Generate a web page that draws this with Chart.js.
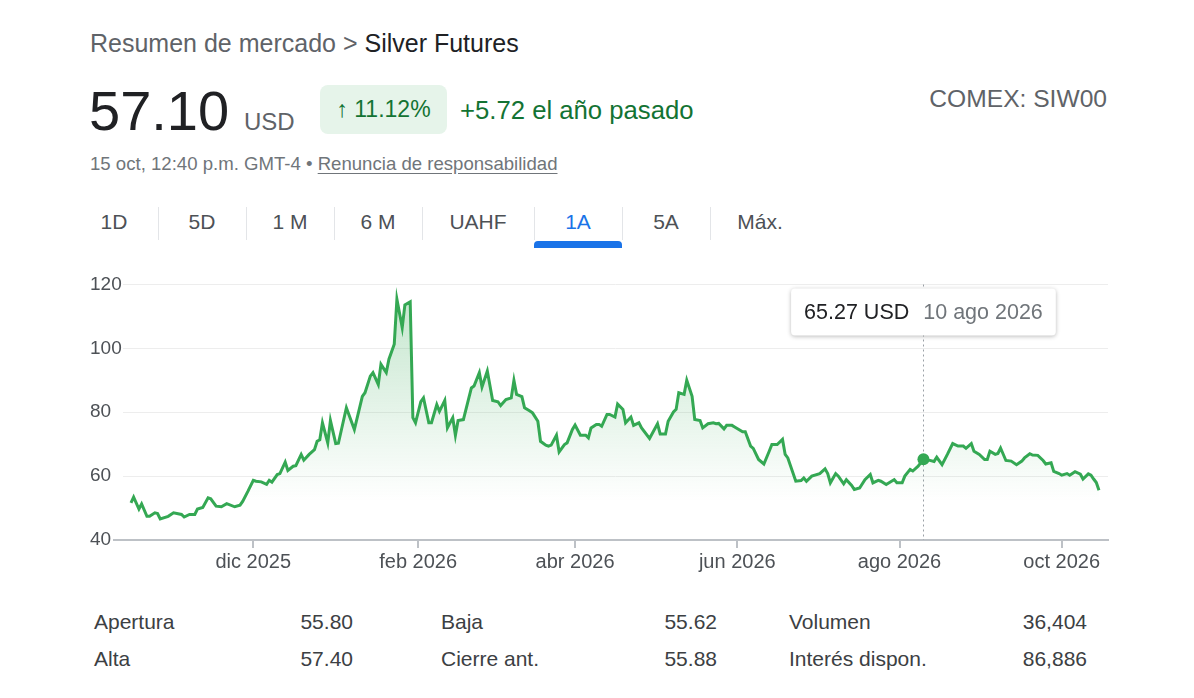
<!DOCTYPE html>
<html lang="es">
<head>
<meta charset="utf-8">
<title>Silver Futures</title>
<script src="https://cdn.jsdelivr.net/npm/chart.js@4.4.1/dist/chart.umd.min.js"></script>
<style>
  body {
    margin: 0;
    width: 1194px;
    height: 698px;
    position: relative;
    overflow: hidden;
    background: #fff;
    font-family: Arial, "Liberation Sans", sans-serif;
    color: #202124;
  }
  .abs { position: absolute; white-space: nowrap; }
  .crumb { left: 90px; top: 28px; font-size: 25px; line-height: 30px; color: #5f6368; }
  .crumb span { color: #202124; }
  .price { left: 89px; top: 81px; font-size: 56px; line-height: 60px; color: #202124; }
  .unit { left: 244px; top: 107px; font-size: 24px; line-height: 30px; color: #5f6368; }
  .badge {
    left: 320px; top: 85px; width: 127px; height: 49px;
    background: #e6f4ea; border-radius: 8px;
    display: flex; align-items: center; justify-content: center;
    font-size: 23px; color: #137333;
  }
  .gain { left: 460px; top: 95px; font-size: 25.7px; line-height: 30px; color: #137333; }
  .comex { right: 87px; top: 84px; font-size: 24.6px; line-height: 30px; color: #5f6368; }
  .stamp { left: 90px; top: 153px; font-size: 18.6px; line-height: 22px; color: #70757a; }
  .stamp u { text-underline-offset: 3px; }
  .tabs { left: 70px; top: 200px; height: 44px; display: flex; }
  .tab {
    position: relative; height: 44px;
    display: flex; align-items: center; justify-content: center;
    font-size: 21px; color: #4d5156;
  }
  .tab + .tab::before {
    content: ""; position: absolute; left: 0; top: 7px; width: 1px; height: 33px; background: #e3e5e8;
  }
  .tab.on { color: #1a73e8; }
  .tab.on::after {
    content: ""; position: absolute; left: 0; right: 0; bottom: -4px; height: 7px;
    background: #1a73e8; border-radius: 4px 4px 0 0;
  }
  #chartBox { left: 0; top: 260px; width: 1194px; height: 320px; }
  .stat { display: flex; justify-content: space-between; font-size: 21px; line-height: 26px; color: #3c4043; }
</style>
</head>
<body>
<div class="abs crumb">Resumen de mercado &gt; <span>Silver Futures</span></div>
<div class="abs price">57.10</div>
<div class="abs unit">USD</div>
<div class="abs badge">↑ 11.12%</div>
<div class="abs gain">+5.72 el año pasado</div>
<div class="abs comex">COMEX: SIW00</div>
<div class="abs stamp">15 oct, 12:40 p.m. GMT-4 • <u>Renuncia de responsabilidad</u></div>
<div class="abs tabs" id="tabs"></div>
<div class="abs" id="chartBox"><canvas id="chart" width="1194" height="320"></canvas></div>
<div id="stats"></div>

<script>
// days since 15 oct 2025, one entry per price
const dayOffsets = [
  1, 2, 4, 5, 7, 8, 10, 11, 12, 15, 17, 20, 21, 23, 25, 26, 28, 30, 31, 33,
  35, 37, 40, 42, 43, 45, 47, 48, 50, 52, 53, 54, 56, 57, 59, 60, 62, 63, 65, 66,
  68, 70, 71, 72, 73, 75, 76, 78, 79, 82, 85, 88, 89, 91, 92, 94, 95, 97, 98, 100,
  101, 103, 104, 106, 107, 108, 110, 111, 113, 114, 116, 117, 119, 120, 122, 123, 124, 126, 129, 130,
  132, 133, 135, 137, 139, 140, 142, 144, 145, 146, 148, 149, 151, 152, 154, 155, 157, 158, 159, 161,
  162, 164, 165, 167, 168, 170, 172, 173, 174, 176, 177, 178, 180, 181, 183, 184, 186, 187, 189, 190,
  192, 193, 196, 199, 200, 202, 203, 205, 206, 207, 209, 210, 212, 213, 215, 216, 218, 220, 221, 222,
  224, 225, 227, 228, 231, 232, 234, 235, 237, 239, 241, 242, 244, 246, 247, 248, 251, 253, 254, 255,
  257, 260, 262, 263, 264, 266, 267, 269, 270, 272, 273, 275, 277, 279, 280, 282, 283, 285, 287, 288,
  289, 291, 292, 294, 295, 297, 299, 301, 303, 304, 306, 308, 310, 312, 314, 315, 317, 318, 320, 322,
  323, 324, 326, 327, 328, 330, 332, 334, 336, 337, 339, 340, 342, 344, 345, 347, 348, 350, 351, 353,
  354, 356, 358, 359, 361, 362, 363, 364, 365
];
const prices = [
  51.6, 53.4, 49.7, 51.3, 47.4, 47.4, 48.5, 48.3, 46.6, 47.4, 48.5, 48.0, 47.2, 48.0, 48.0, 49.7, 50.2, 53.2, 52.9, 50.6,
  50.4, 51.4, 50.4, 50.9, 52.1, 55.3, 58.7, 58.4, 58.2, 57.4, 58.7, 58.1, 60.5, 60.8, 64.4, 61.8, 63.1, 63.3, 66.8, 65.0,
  66.8, 68.3, 70.9, 71.4, 76.7, 70.4, 77.4, 70.2, 70.3, 81.4, 74.6, 85.0, 86.1, 91.3, 92.4, 88.7, 95.0, 92.4, 96.6, 101.3,
  115.4, 106.5, 113.6, 114.6, 78.3, 76.7, 83.3, 84.5, 76.7, 76.7, 82.4, 80.3, 83.7, 75.1, 78.3, 72.8, 77.4, 77.7, 87.6, 88.2,
  92.4, 87.9, 92.9, 83.7, 83.3, 82.1, 84.0, 84.5, 90.0, 85.6, 84.9, 81.4, 80.4, 79.8, 77.2, 70.9, 69.7, 69.4, 69.7, 72.8,
  67.6, 69.9, 70.4, 74.6, 76.0, 72.8, 72.8, 72.0, 75.1, 76.2, 76.2, 75.6, 79.3, 79.3, 78.5, 82.6, 80.9, 76.7, 78.5, 75.9,
  76.7, 75.1, 71.8, 76.4, 73.2, 73.2, 77.2, 80.1, 80.9, 86.1, 85.6, 90.0, 85.0, 77.7, 77.4, 75.1, 76.4, 76.7, 76.4, 76.5,
  74.8, 75.9, 75.9, 75.4, 73.9, 73.9, 69.4, 68.7, 65.2, 63.8, 67.8, 69.9, 69.9, 71.5, 66.8, 65.7, 58.4, 58.6, 59.4, 58.4,
  60.0, 60.8, 62.3, 60.8, 57.9, 60.8, 60.0, 57.6, 58.9, 57.1, 55.8, 56.3, 58.9, 60.5, 57.9, 58.7, 58.4, 57.4, 58.4, 58.9,
  57.9, 57.9, 60.0, 62.1, 61.6, 63.1, 65.27, 65.0, 64.6, 65.9, 63.6, 66.8, 70.2, 69.4, 69.4, 68.7, 70.2, 67.8, 66.8, 65.2,
  65.2, 67.8, 66.8, 67.1, 68.8, 64.9, 64.7, 63.6, 64.7, 65.7, 67.0, 66.6, 66.5, 64.9, 63.8, 64.2, 61.5, 60.8, 60.3, 60.8,
  60.3, 61.4, 60.6, 59.1, 60.7, 60.3, 59.1, 58.0, 55.6
];

const monthTickDays = [47, 109, 168, 229, 290, 351];
const monthTickLabels = ['dic 2025', 'feb 2026', 'abr 2026', 'jun 2026', 'ago 2026', 'oct 2026'];
const yTicks = [40, 60, 80, 100, 120];

const hoverDay = 299;
const hoverDateLabel = '10 ago 2026';

const tabLabels = ['1D', '5D', '1 M', '6 M', 'UAHF', '1A', '5A', 'Máx.'];
const tabWidths = [88, 88, 88, 88, 112, 88, 88, 100];
const activeTab = '1A';

const statLabels = [['Apertura', 'Alta'], ['Baja', 'Cierre ant.'], ['Volumen', 'Interés dispon.']];
const statValues = [['55.80', '57.40'], ['55.62', '55.88'], ['36,404', '86,886']];

// tabs
const tabs = document.getElementById('tabs');
tabLabels.forEach((t, i) => {
  const d = document.createElement('div');
  d.className = 'tab' + (t === activeTab ? ' on' : '');
  d.style.width = tabWidths[i] + 'px';
  d.textContent = t;
  tabs.appendChild(d);
});

// key stats
const statCols = [[94, 353], [441, 717], [789, 1087]];
const statRowsTop = [609, 646];
const stats = document.getElementById('stats');
statLabels.forEach((col, c) => {
  col.forEach((label, r) => {
    const d = document.createElement('div');
    d.className = 'abs stat';
    d.style.left = statCols[c][0] + 'px';
    d.style.width = (statCols[c][1] - statCols[c][0]) + 'px';
    d.style.top = statRowsTop[r] + 'px';
    d.innerHTML = `<span>${label}</span><span>${statValues[c][r]}</span>`;
    stats.appendChild(d);
  });
});

const points = dayOffsets.map((d, i) => ({ x: d, y: prices[i] }));
const hoverIndex = dayOffsets.indexOf(hoverDay);
const FONT = 'Arial, "Liberation Sans", sans-serif';
Chart.defaults.font.family = FONT;

// crosshair, tooltip box and the little axis stub left of the plot
const hoverPlugin = {
  id: 'hoverBox',
  beforeDatasetsDraw(chart) {
    const { ctx, chartArea, scales } = chart;
    const x = Math.round(scales.x.getPixelForValue(hoverDay)) + 0.5;
    ctx.save();
    ctx.strokeStyle = '#9aa0a6';
    ctx.lineWidth = 1;
    ctx.setLineDash([2, 3]);
    ctx.beginPath();
    ctx.moveTo(x, chartArea.top);
    ctx.lineTo(x, chartArea.bottom);
    ctx.stroke();
    ctx.restore();
  },
  afterDraw(chart) {
    const { ctx, chartArea, scales } = chart;
    ctx.save();
    ctx.strokeStyle = '#bdc1c6';
    ctx.lineWidth = 2;
    ctx.beginPath();
    ctx.moveTo(chartArea.left - 10, chartArea.bottom);
    ctx.lineTo(chartArea.left, chartArea.bottom);
    ctx.stroke();

    const x = scales.x.getPixelForValue(hoverDay);
    const priceText = prices[hoverIndex].toFixed(2) + ' USD';
    ctx.font = '21.5px ' + FONT;
    const w1 = ctx.measureText(priceText).width;
    const w2 = ctx.measureText(hoverDateLabel).width;
    const pad = 13, gap = 14;
    const bw = pad + w1 + gap + w2 + pad;
    const bh = 47;
    const bx = x - bw / 2;
    const by = chartArea.top + 4;
    ctx.shadowColor = 'rgba(0,0,0,0.28)';
    ctx.shadowBlur = 4;
    ctx.shadowOffsetY = 1;
    ctx.fillStyle = '#fff';
    ctx.beginPath();
    ctx.roundRect(bx, by, bw, bh, 4);
    ctx.fill();
    ctx.shadowColor = 'transparent';
    ctx.textBaseline = 'middle';
    ctx.fillStyle = '#202124';
    ctx.fillText(priceText, bx + pad, by + bh / 2 + 1);
    ctx.fillStyle = '#70757a';
    ctx.fillText(hoverDateLabel, bx + pad + w1 + gap, by + bh / 2 + 1);
    ctx.restore();
  }
};

const ctx = document.getElementById('chart').getContext('2d');
new Chart(ctx, {
  type: 'line',
  data: {
    datasets: [{
      data: points,
      borderColor: '#34a853',
      borderWidth: 3,
      tension: 0,
      fill: 'start',
      backgroundColor: (c) => {
        const area = c.chart.chartArea;
        if (!area) return 'rgba(52,168,83,0.1)';
        const g = c.chart.ctx.createLinearGradient(0, area.top, 0, area.bottom);
        g.addColorStop(0, 'rgba(52,168,83,0.30)');
        g.addColorStop(0.85, 'rgba(52,168,83,0.0)');
        return g;
      },
      pointRadius: (c) => (c.dataIndex === hoverIndex ? 6 : 0),
      pointBackgroundColor: '#34a853',
      pointBorderWidth: 0
    }]
  },
  options: {
    responsive: false,
    animation: false,
    devicePixelRatio: 1,
    layout: { padding: { left: 90, right: 86, top: 24.5, bottom: 4 } },
    plugins: { legend: { display: false }, tooltip: { enabled: false } },
    scales: {
      x: {
        type: 'linear',
        min: -2,
        max: 368.4,
        afterBuildTicks: (s) => { s.ticks = monthTickDays.map(v => ({ value: v })); },
        ticks: {
          callback: (v) => monthTickLabels[monthTickDays.indexOf(v)],
          font: { size: 20 },
          color: '#4d5156',
          padding: 2,
          maxRotation: 0,
          autoSkip: false
        },
        grid: { drawOnChartArea: false, tickLength: 8, color: '#bdc1c6', lineWidth: 2 },
        border: { color: '#bdc1c6', width: 2 }
      },
      y: {
        min: 40,
        max: 120,
        afterBuildTicks: (s) => { s.ticks = yTicks.map(v => ({ value: v })); },
        afterFit: (s) => { s.width = 33; },
        ticks: { crossAlign: 'far', font: { size: 19 }, color: '#4d5156', padding: 3 },
        grid: { color: '#ededed', drawTicks: false },
        border: { display: false }
      }
    }
  },
  plugins: [hoverPlugin]
});
</script>
</body>
</html>
